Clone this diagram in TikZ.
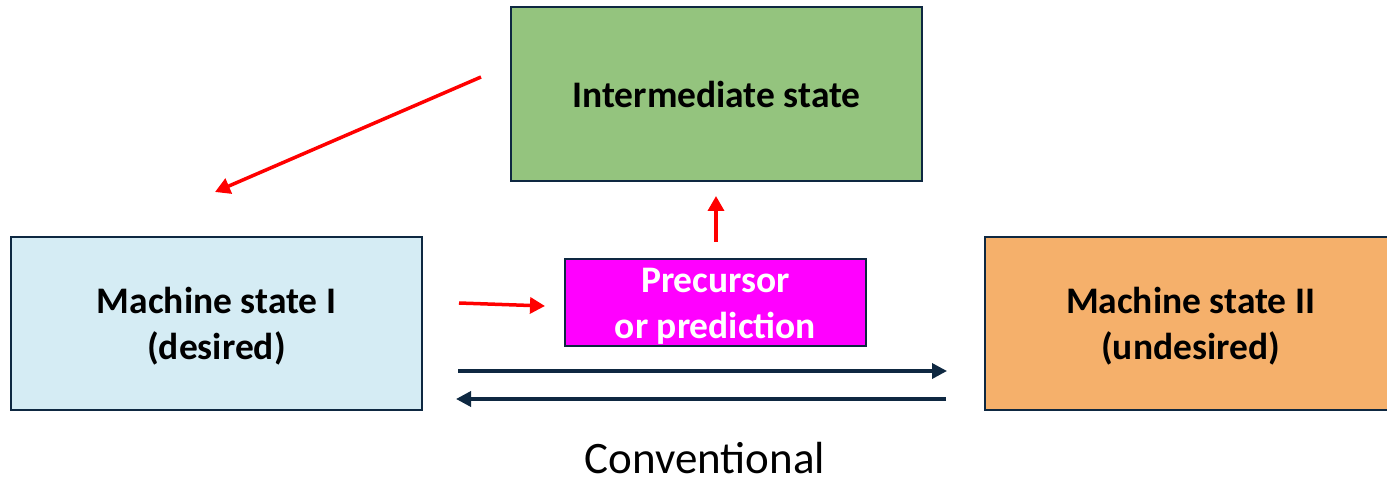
\documentclass[tikz,border=0pt]{standalone}
\usepackage{fontspec}
\setmainfont{Carlito}
\usetikzlibrary{arrows.meta}
\definecolor{navy}{HTML}{0E2841}
\definecolor{boxgreen}{HTML}{94C47E}
\definecolor{boxblue}{HTML}{D5ECF4}
\definecolor{boxorange}{HTML}{F5B06B}
\definecolor{boxmagenta}{HTML}{FF00FF}
\definecolor{arrred}{HTML}{FF0000}
\tikzset{
  statebox/.style={draw=navy, line width=2pt, inner sep=0pt},
  boxtext/.style={align=center, inner sep=0pt, font=\fontsize{37.5}{46}\selectfont\bfseries},
  redarrow/.style={draw=arrred, line width=3.5pt, -{Triangle[length=15pt,width=16pt]}},
  navyarrow/.style={draw=navy, line width=3.5pt, -{Triangle[length=15pt,width=15pt]}},
}
\begin{document}
\begin{tikzpicture}[x=1pt,y=-1pt]
\useasboundingbox (0,0) rectangle (1387,481);
\node[statebox, fill=boxgreen, minimum width=411pt, minimum height=174pt] (inter) at (716.5,94) {};
\node[boxtext] (intert) at (inter.center) {Intermediate state};
\node[statebox, fill=boxblue, minimum width=411pt, minimum height=173pt] (m1) at (216.5,323.5) {};
\node[boxtext] (m1t) at (216.5,326.5) {Machine state I\\(desired)};
\node[statebox, fill=boxorange, minimum width=411pt, minimum height=173pt] (m2) at (1190.5,323.5) {};
\node[boxtext] (m2t) at (1190.5,326.5) {Machine state II\\(undesired)};
\node[statebox, fill=boxmagenta, minimum width=301pt, minimum height=87pt] (prec) at (715.5,302.5) {};
\node[boxtext, text=white] (prect) at (715.5,306) {Precursor\\or prediction};
\node[font=\fontsize{45}{50}\selectfont, inner sep=0pt] (conv) at (705,458) {Conventional};
\coordinate (a1s) at (481,77);
\coordinate (a1e) at (215,192);
\draw[redarrow] (a1s) -- (a1e);
\coordinate (a2s) at (459,303);
\coordinate (a2e) at (545,306);
\draw[redarrow] (a2s) -- (a2e);
\coordinate (a3s) at (716,242);
\coordinate (a3e) at (716,196);
\draw[redarrow] (a3s) -- (a3e);
\coordinate (a4s) at (458,371);
\coordinate (a4e) at (947,371);
\draw[navyarrow] (a4s) -- (a4e);
\coordinate (a5s) at (946,399);
\coordinate (a5e) at (456,399);
\draw[navyarrow] (a5s) -- (a5e);
\end{tikzpicture}
\end{document}
